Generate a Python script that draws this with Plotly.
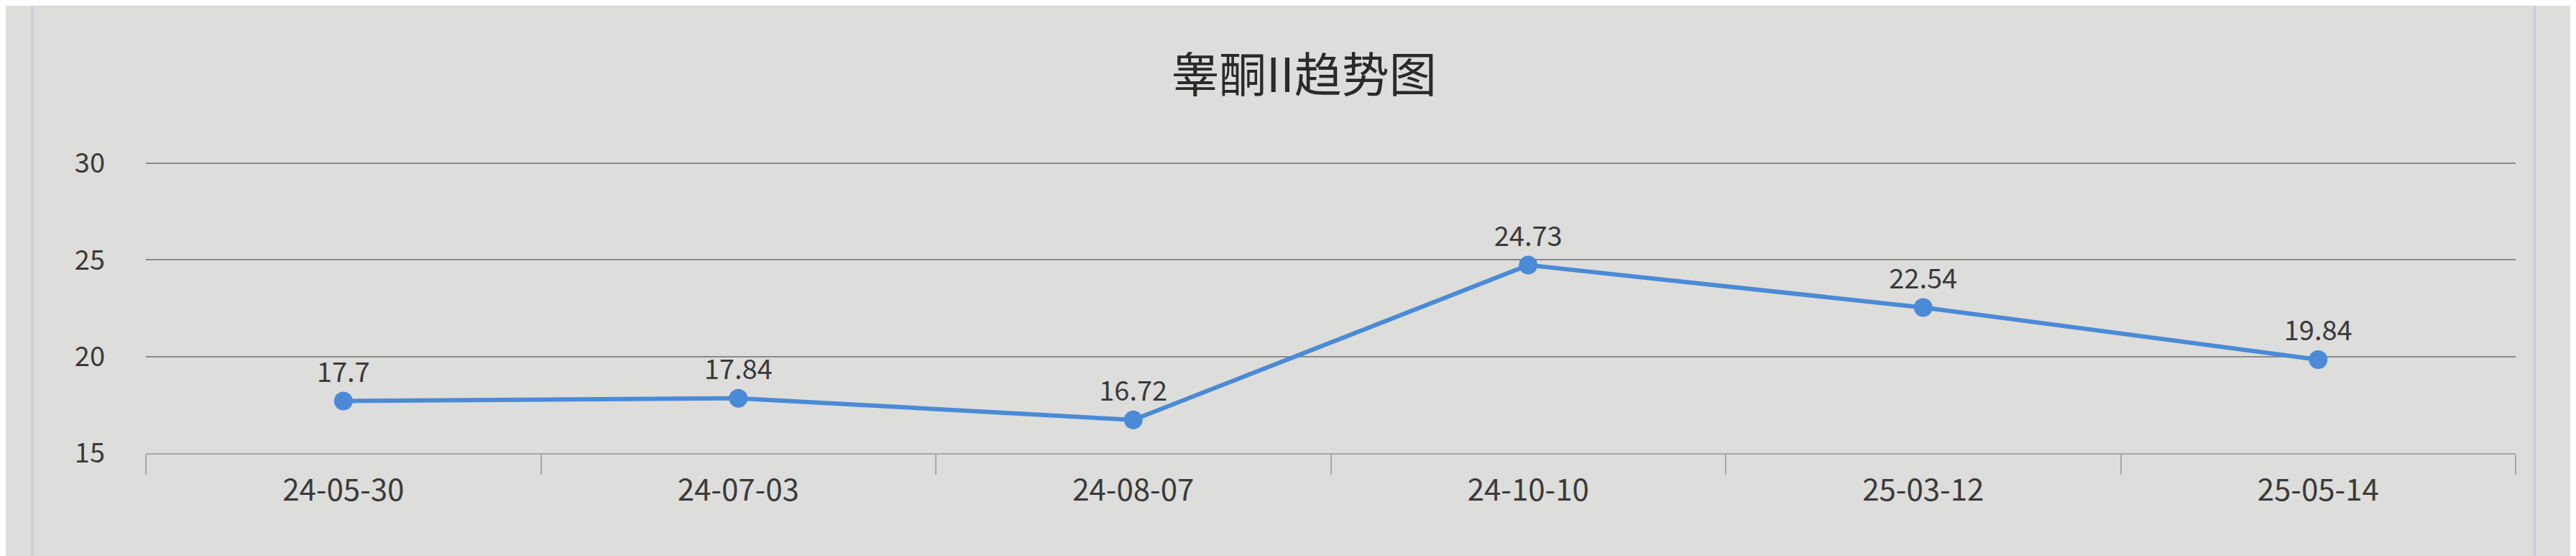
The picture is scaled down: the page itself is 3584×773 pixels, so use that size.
import plotly.graph_objects as go

# test dates and measured values (testosterone II)
dates = ["24-05-30", "24-07-03", "24-08-07", "24-10-10", "25-03-12", "25-05-14"]
values = [17.7, 17.84, 16.72, 24.73, 22.54, 19.84]
value_labels = ["17.7", "17.84", "16.72", "24.73", "22.54", "19.84"]
y_ticks = [15, 20, 25, 30]

font_name = "Noto Sans CJK SC, Noto Sans, sans-serif"

fig = go.Figure()

fig.add_trace(go.Scatter(
    x=dates,
    y=values,
    mode="lines+markers+text",
    text=value_labels,
    textposition="top center",
    textfont=dict(size=38, color="#3a3a3a", family=font_name),
    line=dict(color="#4a8ad6", width=6),
    marker=dict(color="#4a8ad6", size=26),
    showlegend=False,
    cliponaxis=False,
))

fig.update_layout(
    width=3584,
    height=773,
    paper_bgcolor="#dddddb",
    plot_bgcolor="#dddddb",
    margin=dict(l=195, r=92, t=215, b=151),
    font=dict(family=font_name, color="#333333"),
    title=dict(
        text="睾酮II趋势图",
        x=0.504,
        xanchor="center",
        y=0.875,
        yanchor="middle",
        font=dict(size=66, color="#2a2a2a", family=font_name),
    ),
)

fig.update_xaxes(
    type="category",
    range=[-0.5, 5.5],
    tickson="boundaries",
    ticks="outside",
    ticklen=28,
    tickwidth=2,
    tickcolor="#a8a8a8",
    showline=True,
    linecolor="#a8a8a8",
    linewidth=2,
    showgrid=False,
    ticklabelstandoff=14,
    tickfont=dict(size=42, color="#3a3a3a"),
)

# top of range nudged so the 30 gridline is not dropped at the edge
fig.update_yaxes(
    range=[15, 30.15],
    tickvals=y_ticks,
    showgrid=True,
    gridcolor="#8a8a8a",
    gridwidth=2,
    zeroline=False,
    showline=False,
    ticks="",
    ticklabelstandoff=56,
    tickfont=dict(size=38, color="#3a3a3a"),
)

# page frame of the card the chart sits in
fig.add_shape(
    type="rect", xref="paper", yref="paper",
    x0=-0.048, x1=1.008, y0=-0.36, y1=1.53,
    line=dict(color="#c8ccd4", width=3),
    fillcolor="rgba(0,0,0,0)",
)

fig.write_html("out.html")
